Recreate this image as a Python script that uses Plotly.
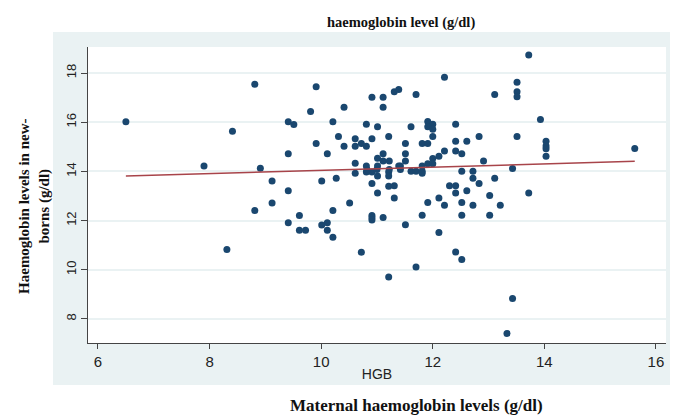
import plotly.graph_objects as go

# Maternal HGB (x) vs newborn haemoglobin (y)
maternal_hgb = [
    6.50, 7.90, 8.41, 8.81, 8.91, 9.12, 9.41, 9.51, 9.41, 9.41,
    9.81, 9.91, 9.91, 10.01, 10.11, 10.21, 10.27, 10.31, 10.41, 10.41,
    10.61, 10.61, 10.72, 10.81, 10.81, 10.91, 11.11, 11.11, 11.01, 10.91,
    11.21, 10.61, 10.61, 10.81, 10.81, 10.91, 11.01, 11.11, 11.01, 11.11,
    11.01, 10.91, 11.01, 11.21, 11.21, 11.21, 8.81, 9.12, 9.41, 9.61,
    9.61, 9.72, 10.01, 10.11, 10.11, 10.21, 10.21, 10.51, 10.72, 10.91,
    10.91, 10.91, 11.11, 8.31, 11.21, 10.82, 11.00, 11.22, 11.31, 11.31,
    11.31, 11.39, 11.22, 11.39, 12.21, 11.70, 13.11, 13.51, 13.51, 13.51,
    11.91, 12.00, 11.91, 12.00, 11.61, 12.41, 12.00, 11.51, 11.81, 11.91,
    12.41, 12.61, 12.83, 13.51, 11.51, 11.51, 12.00, 12.11, 12.21, 12.41,
    12.52, 11.91, 12.00, 11.81, 11.42, 12.91, 13.43, 11.61, 11.70, 11.81,
    12.52, 12.72, 11.42, 11.81, 12.72, 13.11, 12.30, 12.41, 12.83, 12.41,
    12.61, 13.02, 12.11, 11.91, 12.21, 12.52, 12.72, 13.21, 11.81, 12.52,
    13.02, 11.51, 12.11, 12.41, 12.52, 11.70, 13.72, 13.72, 13.93, 14.03,
    14.03, 14.03, 14.03, 13.43, 13.33, 15.62,
]
newborn_hgb = [
    16.02, 14.22, 15.63, 17.54, 14.13, 13.61, 16.02, 15.91, 14.72, 13.21,
    16.44, 17.44, 15.13, 13.61, 14.72, 16.02, 13.72, 15.42, 16.61, 15.02,
    15.33, 15.02, 15.13, 15.02, 15.92, 17.02, 17.02, 16.61, 15.82, 15.33,
    15.42, 14.33, 13.92, 14.22, 13.98, 13.98, 14.53, 14.42, 14.22, 14.72,
    13.81, 13.51, 13.12, 13.98, 13.81, 13.40, 12.41, 12.71, 11.91, 12.21,
    11.61, 11.61, 11.82, 11.91, 11.61, 12.41, 11.32, 12.71, 10.71, 12.21,
    12.11, 12.02, 12.12, 10.82, 9.70, 14.08, 14.08, 14.08, 13.42, 12.92,
    17.24, 17.33, 14.42, 14.22, 17.83, 17.13, 17.13, 17.63, 17.24, 17.04,
    16.03, 15.92, 15.82, 15.71, 15.82, 15.92, 15.42, 15.13, 15.13, 15.13,
    15.23, 15.23, 15.42, 15.42, 14.72, 14.42, 14.52, 14.62, 14.83, 14.83,
    14.72, 14.31, 14.31, 14.22, 14.22, 14.42, 14.12, 14.01, 14.01, 14.01,
    14.01, 14.01, 14.08, 13.92, 13.72, 13.72, 13.42, 13.42, 13.51, 13.12,
    13.21, 13.02, 12.92, 12.73, 12.62, 12.73, 12.62, 12.62, 12.22, 12.22,
    12.22, 11.83, 11.51, 10.72, 10.42, 10.11, 13.12, 18.73, 16.11, 15.23,
    15.03, 14.92, 14.62, 8.83, 7.41, 14.93,
]

# Linear fit line endpoints (as drawn)
fit_x = [6.50, 15.62]
fit_y = [13.81, 14.41]

x_ticks = [6, 8, 10, 12, 14, 16]
y_ticks = [8, 10, 12, 14, 16, 18]

top_title = "haemoglobin level (g/dl)"
bottom_title = "Maternal haemoglobin levels (g/dl)"
y_title = "Haemoglobin levels in new-<br>borns (g/dl)"
x_axis_title = "HGB"

fig = go.Figure()
fig.add_trace(go.Scatter(
    x=maternal_hgb, y=newborn_hgb, mode="markers",
    marker=dict(color="#1a476f", size=7, line=dict(width=0)),
    showlegend=False, hoverinfo="x+y",
))
fig.add_trace(go.Scatter(
    x=fit_x, y=fit_y, mode="lines",
    line=dict(color="#a8444a", width=1.5),
    showlegend=False,
))

def serif_bold(size):
    return dict(family="Liberation Serif", size=size, color="#111111")

# The page body has an 8px margin, so the figure is sized 8px smaller
fig.update_layout(
    width=670, height=408,
    margin=dict(l=80, r=12, t=39, b=73),
    paper_bgcolor="white",
    plot_bgcolor="white",
    font=dict(family="Liberation Sans", size=14, color="#222222"),
    shapes=[
        dict(type="rect", xref="paper", yref="paper",
             x0=-0.0606, x1=1.0173, y0=-0.1419, y1=1.0507,
             fillcolor="#eaf2f3", line=dict(width=0), layer="below"),
        dict(type="rect", xref="paper", yref="paper",
             x0=0, x1=1, y0=0, y1=1,
             fillcolor="white", line=dict(width=0), layer="below"),
    ],
    annotations=[
        dict(text="<b>" + top_title + "</b>", xref="paper", yref="paper",
             x=0.5415, y=1.082, showarrow=False, font=serif_bold(14.5),
             xanchor="center", yanchor="middle"),
        dict(text="<b>" + bottom_title + "</b>", xref="paper", yref="paper",
             x=0.5675, y=-0.2128, showarrow=False, font=serif_bold(17),
             xanchor="center", yanchor="middle"),
        dict(text="<b>" + y_title + "</b>", xref="paper", yref="paper",
             x=-0.0917, y=0.463, showarrow=False, font=serif_bold(15),
             textangle=-90, xanchor="center", yanchor="middle"),
    ],
    xaxis=dict(
        range=[5.821, 16.18], tickvals=x_ticks,
        tickfont=dict(family="Liberation Sans", size=15, color="#222222"),
        showgrid=False, zeroline=False,
        showline=True, linecolor="#444444", linewidth=1,
        ticks="outside", ticklen=5, tickcolor="#444444",
        title=dict(text=x_axis_title, standoff=0,
                   font=dict(family="Liberation Sans", size=14, color="#222222")),
    ),
    yaxis=dict(
        range=[7.02, 19.06], tickvals=y_ticks, tickangle=-90,
        tickfont=dict(family="Liberation Sans", size=13, color="#222222"),
        showgrid=True, gridcolor="#eaf2f3", gridwidth=1.5,
        zeroline=False,
        showline=True, linecolor="#444444", linewidth=1,
        ticks="outside", ticklen=6, tickcolor="#444444",
    ),
)

fig.write_html("out.html")
